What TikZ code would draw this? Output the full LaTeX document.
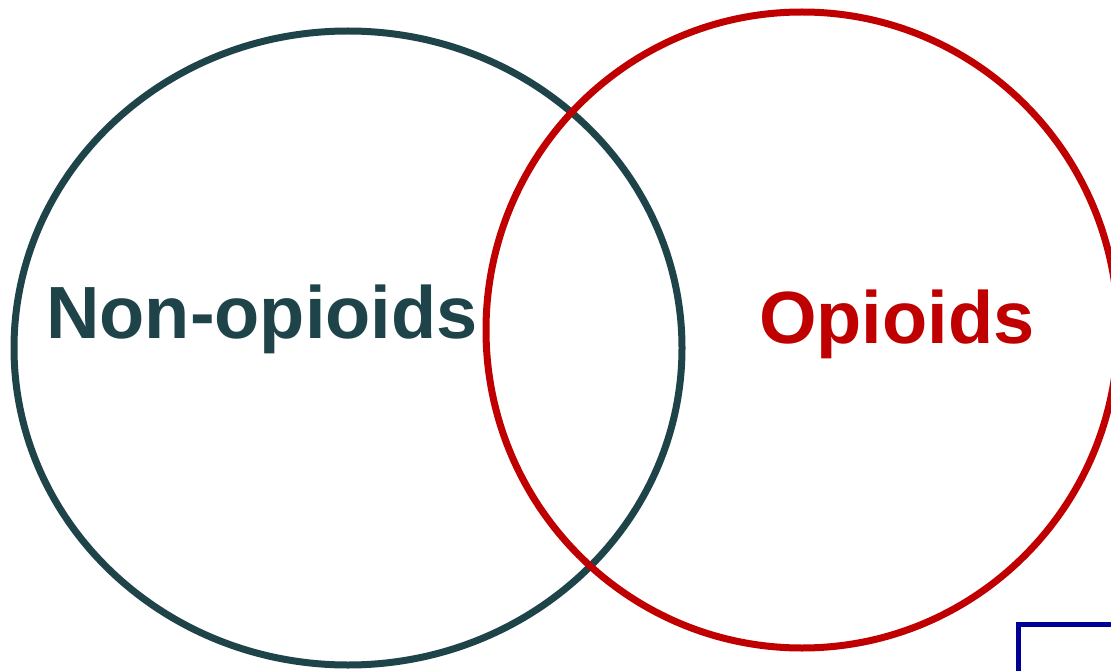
\documentclass[tikz,border=0pt]{standalone}
\usepackage{fontspec}
\setmainfont{Liberation Sans}
\definecolor{tealdark}{HTML}{1E444A}
\definecolor{redop}{HTML}{C00000}
\definecolor{bluebox}{HTML}{000096}
\begin{document}
\begin{tikzpicture}[x=1pt,y=-1pt,
  ring/.style={line width=7pt},
  label/.style={font=\bfseries\fontsize{74}{80}\selectfont, inner sep=0pt, anchor=base west}]
\useasboundingbox (0,0) rectangle (1111,671);
\clip (0,0) rectangle (1111,671);
\fill[white] (0,0) rectangle (1111,671);
\draw[ring, tealdark] (348,348) ellipse [x radius=334, y radius=317];
\draw[ring, redop] (802,330) ellipse [x radius=316, y radius=318];
\draw[bluebox, line width=5pt] (1018.5,624.5) rectangle (1300,800);
\node[label, text=tealdark] (nonop) at (46,338) {Non-opioids};
\node[label, text=redop] (op) at (759,343) {Opioids};
\end{tikzpicture}
\end{document}
